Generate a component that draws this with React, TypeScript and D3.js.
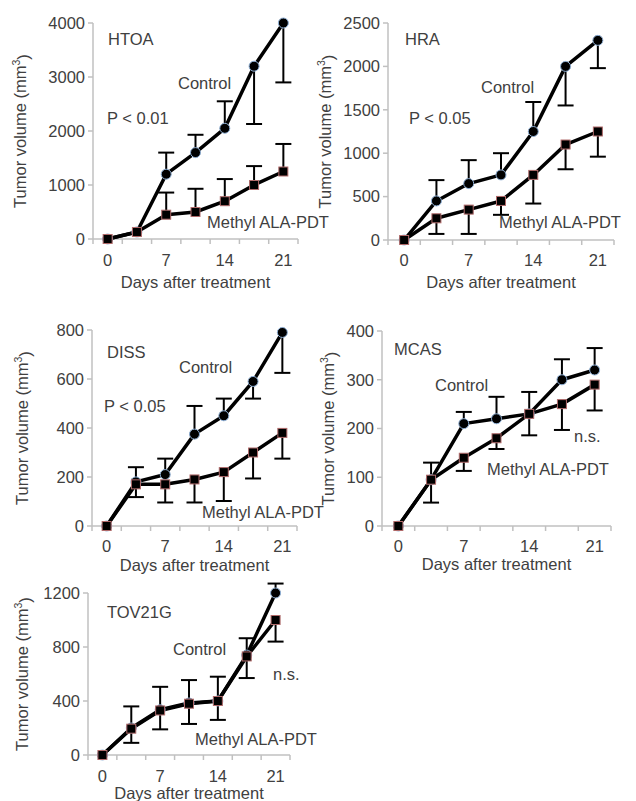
import React from 'react';
import * as d3 from 'd3';

// sampling days (shown as evenly spaced categories)
const days = [0, 3.5, 7, 10.5, 14, 17.5, 21];
const dayTicks = [0, 7, 14, 21];

// HTOA
const htoaControl = [0, 130, 1200, 1600, 2050, 3200, 4000];
const htoaControlErr = [null, null, 1600, 1930, 2550, 2130, 2900];
const htoaTreated = [0, 130, 450, 500, 700, 1000, 1250];
const htoaTreatedErr = [null, null, 860, 930, 1110, 1350, 1760];
const htoaTicks = [0, 1000, 2000, 3000, 4000];

// HRA
const hraControl = [0, 450, 650, 750, 1250, 2000, 2300];
const hraControlErr = [null, 690, 920, 1000, 1590, 1550, 1980];
const hraTreated = [0, 250, 350, 450, 750, 1100, 1250];
const hraTreatedErr = [null, 70, 70, 290, 420, 815, 960];
const hraTicks = [0, 500, 1000, 1500, 2000, 2500];

// DISS
const dissControl = [0, 180, 210, 375, 450, 590, 790];
const dissControlErr = [null, 240, 275, 490, 520, 520, 625];
const dissTreated = [0, 170, 170, 190, 220, 300, 380];
const dissTreatedErr = [null, 118, 96, 96, 102, 194, 275];
const dissTicks = [0, 200, 400, 600, 800];

// MCAS
const mcasControl = [0, 95, 210, 220, 230, 300, 320];
const mcasControlErr = [null, 130, 234, 265, 275, 342, 365];
const mcasTreated = [0, 95, 140, 180, 230, 250, 290];
const mcasTreatedErr = [null, 48, 113, 158, 186, 197, 237];
const mcasTicks = [0, 100, 200, 300, 400];

// TOV21G
const tovControl = [0, 200, 335, 385, 400, 740, 1200];
const tovControlErr = [null, 360, 505, 555, 580, 865, 1270];
const tovTreated = [0, 195, 330, 380, 400, 730, 1000];
const tovTreatedErr = [null, 90, 190, 230, 260, 570, 840];
const tovTicks = [0, 400, 800, 1200];

const FONT = 'Liberation Sans, Arial, sans-serif';
const TXT = '#404040';
const AXIS = '#c0c0c0';

const panels = [
  {
    name: 'HTOA', control: htoaControl, controlErr: htoaControlErr, treated: htoaTreated, treatedErr: htoaTreatedErr, ticks: htoaTicks,
    stat: 'P < 0.01',
    box: { left: 93, right: 298, top: 23, bottom: 239, tickDy: 21, titleDy: 43, yLabelX: 20 },
    notes: { title: [108, 45], control: [178, 89], stat: [107, 124], treated: [207, 228] },
  },
  {
    name: 'HRA', control: hraControl, controlErr: hraControlErr, treated: hraTreated, treatedErr: hraTreatedErr, ticks: hraTicks,
    stat: 'P < 0.05',
    box: { left: 388, right: 614, top: 23, bottom: 240, tickDy: 20, titleDy: 42, yLabelX: 325 },
    notes: { title: [405, 45], control: [481, 93], stat: [409, 124], treated: [499, 228] },
  },
  {
    name: 'DISS', control: dissControl, controlErr: dissControlErr, treated: dissTreated, treatedErr: dissTreatedErr, ticks: dissTicks,
    stat: 'P < 0.05',
    box: { left: 92, right: 297, top: 330, bottom: 526, tickDy: 20, titleDy: 39, yLabelX: 22 },
    notes: { title: [107, 358], control: [179, 373], stat: [104, 412], treated: [202, 518] },
  },
  {
    name: 'MCAS', control: mcasControl, controlErr: mcasControlErr, treated: mcasTreated, treatedErr: mcasTreatedErr, ticks: mcasTicks,
    stat: 'n.s.',
    box: { left: 382, right: 611, top: 331, bottom: 526, tickDy: 20, titleDy: 38, yLabelX: 328 },
    notes: { title: [394, 355], control: [435, 391], stat: [574, 442], treated: [487, 475] },
  },
  {
    name: 'TOV21G', control: tovControl, controlErr: tovControlErr, treated: tovTreated, treatedErr: tovTreatedErr, ticks: tovTicks,
    stat: 'n.s.',
    box: { left: 88, right: 290, top: 593, bottom: 755, tickDy: 21, titleDy: 38, yLabelX: 22 },
    notes: { title: [107, 618], control: [173, 655], stat: [273, 680], treated: [195, 745] },
  },
];

const Panel = ({ p }: { p: (typeof panels)[number] }) => {
  const b = p.box;
  const x = d3.scaleLinear().domain([-1.75, 22.75]).range([b.left, b.right]);
  const y = d3.scaleLinear().domain([0, d3.max(p.ticks) as number]).range([b.bottom, b.top]);
  const line = d3.line<number>().x((_, i) => x(days[i])).y((d) => y(d));
  const boundaries = d3.range(-1.75, 23, 3.5);
  const cap = 8;

  const errBars = (vals: number[], errs: (number | null)[], key: string) =>
    vals.map((v, i) =>
      errs[i] == null ? null : (
        <g key={key + i} stroke="#000" strokeWidth={2}>
          <line x1={x(days[i])} x2={x(days[i])} y1={y(v)} y2={y(errs[i] as number)} />
          <line x1={x(days[i]) - cap} x2={x(days[i]) + cap} y1={y(errs[i] as number)} y2={y(errs[i] as number)} />
        </g>
      )
    );

  const textProps = { fontFamily: FONT, fontSize: 16.5, fill: TXT };
  const midY = (b.top + b.bottom) / 2;

  return (
    <g>
      {/* axes */}
      <line x1={b.left} x2={b.left} y1={b.top} y2={b.bottom} stroke={AXIS} strokeWidth={1.5} />
      <line x1={b.left} x2={b.right} y1={b.bottom} y2={b.bottom} stroke={AXIS} strokeWidth={1.5} />
      {p.ticks.map((t) => (
        <g key={'y' + t}>
          <line x1={b.left - 5} x2={b.left} y1={y(t)} y2={y(t)} stroke={AXIS} strokeWidth={1.5} />
          <text {...textProps} x={b.left - 8} y={y(t)} dy="0.35em" textAnchor="end">{t}</text>
        </g>
      ))}
      {boundaries.map((t) => (
        <line key={'xb' + t} x1={x(t)} x2={x(t)} y1={b.bottom} y2={b.bottom + 5} stroke={AXIS} strokeWidth={1.5} />
      ))}
      {dayTicks.map((t) => (
        <text key={'x' + t} {...textProps} x={x(t)} y={b.bottom + b.tickDy} dy="0.35em" textAnchor="middle">{t}</text>
      ))}
      <text {...textProps} x={(b.left + b.right) / 2} y={b.bottom + b.titleDy} dy="0.35em" textAnchor="middle">
        Days after treatment
      </text>
      <text {...textProps} transform={`translate(${b.yLabelX},${midY}) rotate(-90)`} dy="0.35em" textAnchor="middle">
        Tumor volume (mm<tspan fontSize={10.5} dy="-0.55em">3</tspan><tspan dy="0.55em">)</tspan>
      </text>

      {/* series */}
      <path d={line(p.control) as string} fill="none" stroke="#000" strokeWidth={3.5} strokeLinejoin="round" />
      <path d={line(p.treated) as string} fill="none" stroke="#000" strokeWidth={3.5} strokeLinejoin="round" />
      {errBars(p.control, p.controlErr, 'ce')}
      {errBars(p.treated, p.treatedErr, 'te')}
      {p.control.map((v, i) => (
        <circle key={'c' + i} cx={x(days[i])} cy={y(v)} r={5} fill="#000" stroke="#8fb0d6" strokeWidth={1} />
      ))}
      {p.treated.map((v, i) => (
        <rect key={'s' + i} x={x(days[i]) - 4.5} y={y(v) - 4.5} width={9} height={9} fill="#000" stroke="#b06a6a" strokeWidth={1} />
      ))}

      {/* annotations */}
      <text {...textProps} x={p.notes.title[0]} y={p.notes.title[1]}>{p.name}</text>
      <text {...textProps} x={p.notes.control[0]} y={p.notes.control[1]}>Control</text>
      <text {...textProps} x={p.notes.stat[0]} y={p.notes.stat[1]}>{p.stat}</text>
      <text {...textProps} x={p.notes.treated[0]} y={p.notes.treated[1]}>Methyl ALA-PDT</text>
    </g>
  );
};

export default function App() {
  return (
    <svg width={636} height={801} style={{ position: 'absolute', left: 0, top: 0, background: '#fff' }}>
      <rect width={636} height={801} fill="#fff" />
      {panels.map((p) => (
        <Panel key={p.name} p={p} />
      ))}
    </svg>
  );
}
